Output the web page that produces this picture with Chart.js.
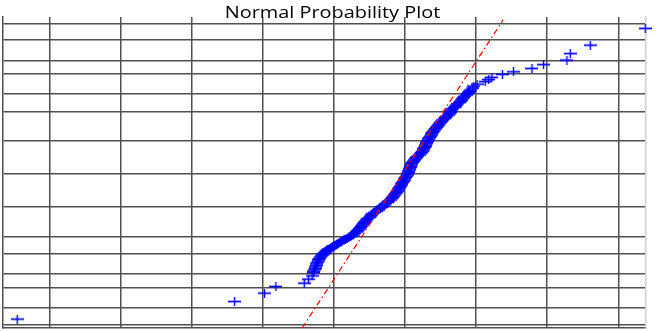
<!DOCTYPE html>
<html>
<head>
<meta charset="utf-8">
<script src="https://cdn.jsdelivr.net/npm/chart.js@4"></script>
<style>
    html, body { margin: 0; padding: 0; background: #fff; }
    #wrap { position: relative; width: 661px; height: 331px; }
    #title {
        position: absolute; left: 2px; top: 3px; width: 661px;
        text-align: center; font-family: 'Open Sans', sans-serif;
        font-size: 17px; line-height: 17px; color: #000;
        transform: scaleX(1.17); transform-origin: 50% 50%;
        pointer-events: none;
    }
</style>
</head>
<body>
<div id="wrap">
    <canvas id="probChart"></canvas>
    <div id="title">Normal Probability Plot</div>
</div>
<script>
// outlying samples (x) and their normal quantiles (z)
const tailX = [-4.46, -1.40, -0.98, -0.82, -0.42, -0.36, -0.31, -0.29,
               1.944, 1.965, 2.014, 2.127, 2.176, 2.221, 2.370, 2.525, 2.785, 2.948,
               3.277, 3.324, 3.606, 4.380];
const tailZ = [-2.977, -2.617, -2.445, -2.309, -2.240, -2.158, -2.090, -2.023,
               1.762, 1.803, 1.844, 1.895, 1.936, 1.982, 2.043, 2.096, 2.166, 2.244,
               2.336, 2.469, 2.643, 2.986];

// the dense middle band, read along its centre
const bandX = [
    -0.275, -0.261, -0.246, -0.225, -0.204, -0.183, -0.155, -0.127, -0.092, -0.056,
    -0.021, 0.014, 0.056, 0.099, 0.141, 0.183, 0.225, 0.268, 0.310, 0.338,
    0.366, 0.394, 0.423, 0.458, 0.493, 0.528, 0.563, 0.620, 0.662, 0.704,
    0.746, 0.789, 0.817, 0.845, 0.873, 0.901, 0.923, 0.944, 0.965, 0.986,
    1.007, 1.028, 1.042, 1.056, 1.070, 1.085, 1.106, 1.127, 1.162, 1.197,
    1.232, 1.254, 1.275, 1.289, 1.303, 1.324, 1.345, 1.366, 1.387, 1.408,
    1.437, 1.465, 1.493, 1.528, 1.570, 1.606, 1.634, 1.655, 1.690, 1.725,
    1.761, 1.789, 1.824, 1.859, 1.887, 1.915,
    -0.284, -0.268, -0.254, -0.236, -0.215, -0.194, -0.169, -0.141, -0.110, -0.074,
    -0.039, -0.004, 0.035, 0.078, 0.120, 0.162, 0.204, 0.247, 0.289, 0.324,
    0.352, 0.380, 0.409, 0.441, 0.476, 0.511, 0.546, 0.592, 0.641, 0.683,
    0.725, 0.768, 0.803, 0.831, 0.859, 0.887, 0.912, 0.934, 0.955, 0.976,
    0.997, 1.018, 1.035, 1.049, 1.063, 1.078, 1.096, 1.117, 1.145, 1.180,
    1.215, 1.243, 1.265, 1.282, 1.296, 1.314, 1.335, 1.356, 1.377, 1.398,
    1.423, 1.451, 1.479, 1.511, 1.549, 1.588, 1.620, 1.645, 1.673, 1.708,
    1.743, 1.775, 1.807, 1.842, 1.873, 1.901
];
const bandZ = [
    -1.967, -1.906, -1.844, -1.783, -1.732, -1.680, -1.639, -1.598, -1.557, -1.527,
    -1.496, -1.465, -1.424, -1.383, -1.352, -1.322, -1.281, -1.250, -1.189, -1.148,
    -1.096, -1.045, -0.994, -0.943, -0.891, -0.840, -0.789, -0.738, -0.686, -0.635,
    -0.584, -0.533, -0.482, -0.430, -0.379, -0.328, -0.277, -0.225, -0.174, -0.123,
    -0.072, -0.020, 0.031, 0.082, 0.133, 0.184, 0.236, 0.287, 0.338, 0.389,
    0.441, 0.492, 0.543, 0.594, 0.645, 0.697, 0.748, 0.799, 0.850, 0.902,
    0.953, 1.004, 1.055, 1.107, 1.158, 1.209, 1.260, 1.311, 1.363, 1.414,
    1.465, 1.516, 1.568, 1.619, 1.670, 1.721,
    -1.995, -1.937, -1.875, -1.814, -1.758, -1.706, -1.660, -1.619, -1.578, -1.542,
    -1.512, -1.481, -1.445, -1.404, -1.368, -1.337, -1.302, -1.266, -1.220, -1.169,
    -1.122, -1.071, -1.020, -0.969, -0.917, -0.866, -0.815, -0.764, -0.712, -0.661,
    -0.610, -0.559, -0.508, -0.456, -0.405, -0.354, -0.303, -0.251, -0.200, -0.149,
    -0.098, -0.046, 0.006, 0.057, 0.108, 0.159, 0.210, 0.262, 0.313, 0.364,
    0.415, 0.467, 0.518, 0.569, 0.620, 0.671, 0.723, 0.774, 0.825, 0.876,
    0.928, 0.979, 1.030, 1.081, 1.133, 1.184, 1.235, 1.286, 1.337, 1.389,
    1.440, 1.491, 1.542, 1.594, 1.645, 1.696
];

// reference line (dash-dot)
const refX = [-0.45, 2.38];
const refZ = [-3.16, 3.16];

// probability grid and the matching normal quantiles
const probLabels = ['0.001', '0.003', '0.01', '0.02', '0.05', '0.10', '0.25', '0.50',
                    '0.75', '0.90', '0.95', '0.98', '0.99', '0.997', '0.999'];
const probZ = [-3.090, -2.748, -2.326, -2.054, -1.645, -1.282, -0.674, 0,
               0.674, 1.282, 1.645, 2.054, 2.326, 2.748, 3.090];
const xTicks = [-4, -3, -2, -1, 0, 1, 2, 3, 4];

// '+' marker, wider than tall and a little soft like the original
function makeCross() {
    const c = document.createElement('canvas');
    c.width = 13;
    c.height = 9;
    const g = c.getContext('2d');
    g.fillStyle = 'rgba(0,0,255,0.35)';
    g.fillRect(0, 3, 13, 1);
    g.fillRect(0, 5, 13, 1);
    g.fillStyle = 'rgba(0,0,255,0.2)';
    g.fillRect(5, 0, 1, 9);
    g.fillRect(7, 0, 1, 9);
    g.fillStyle = '#0000ff';
    g.fillRect(0, 4, 13, 1);
    g.fillRect(6, 0, 1, 9);
    return c;
}

const gridColor = '#505050';
const cross = makeCross();
const toPoints = (xs, zs) => xs.map((x, i) => ({ x: x, y: zs[i] }));

new Chart(document.getElementById('probChart'), {
    type: 'scatter',
    data: {
        datasets: [{
            type: 'line',
            data: toPoints(refX, refZ),
            borderColor: '#ff0000',
            borderWidth: 1.2,
            borderDash: [6, 3, 1.5, 3],
            pointRadius: 0,
            fill: false
        }, {
            data: toPoints(bandX, bandZ).concat(toPoints(tailX, tailZ)),
            pointStyle: cross,
            pointRadius: 6,
            clip: false
        }]
    },
    options: {
        responsive: true,
        maintainAspectRatio: false,
        animation: false,
        layout: { autoPadding: false, padding: { left: 3, right: 15, top: 17, bottom: 3 } },
        plugins: {
            legend: { display: false },
            tooltip: { enabled: false }
        },
        scales: {
            x: {
                type: 'linear',
                min: -4.66,
                max: 4.39,
                afterBuildTicks: s => { s.ticks = xTicks.map(v => ({ value: v })); },
                ticks: { display: false },
                grid: { color: gridColor, lineWidth: 1.5, drawTicks: false },
                border: { color: gridColor, width: 1.5 }
            },
            y: {
                type: 'linear',
                min: -3.16,
                max: 3.22,
                afterBuildTicks: s => { s.ticks = probZ.map(v => ({ value: v })); },
                ticks: { display: false, callback: (v, i) => probLabels[i] },
                grid: { color: gridColor, lineWidth: 1.5, drawTicks: false },
                border: { color: gridColor, width: 1.5 }
            },
            yRight: {
                type: 'linear',
                position: 'right',
                min: -3.16,
                max: 3.22,
                ticks: { display: false },
                grid: { display: false, drawTicks: false },
                border: { color: '#d0d0d0', width: 1.5 }
            }
        }
    }
});
</script>
</body>
</html>
